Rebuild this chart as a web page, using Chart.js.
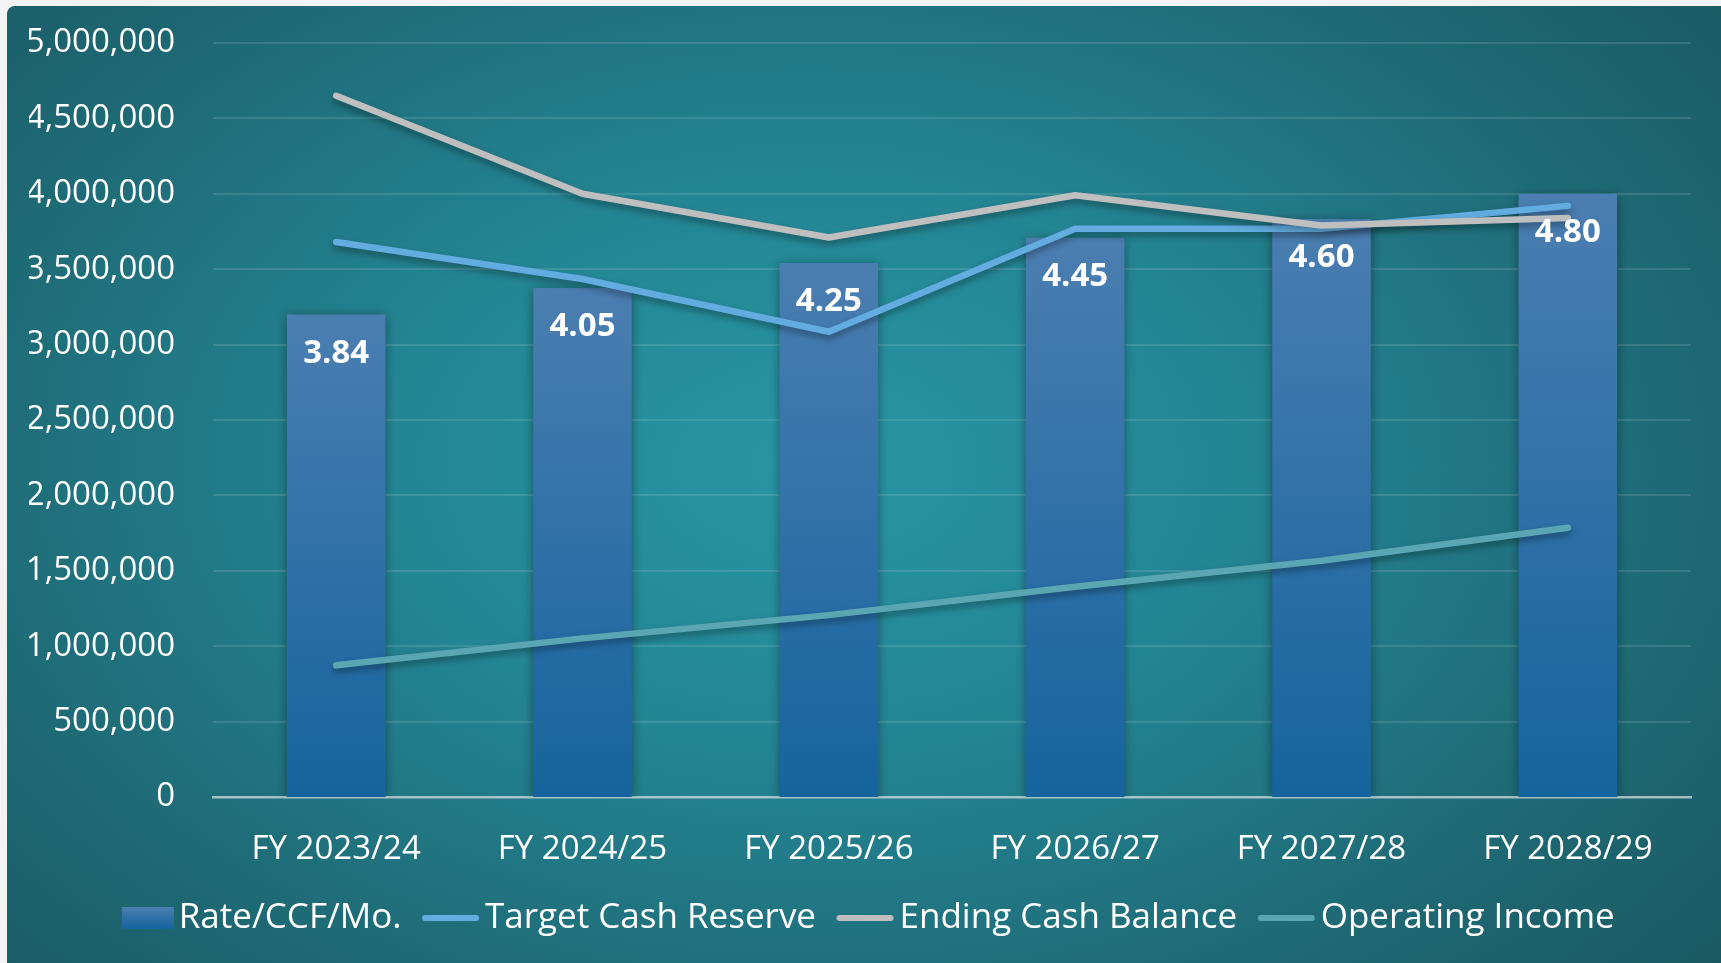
<!DOCTYPE html>
<html><head><meta charset="utf-8">
<script src="https://cdn.jsdelivr.net/npm/chart.js@4.4.1/dist/chart.umd.min.js"></script>
<style>
html,body{margin:0;padding:0;width:1721px;height:963px;overflow:hidden;background:#f3f3f3;}
#card{position:absolute;left:7px;top:6px;width:1714px;height:957px;border-top-left-radius:8px;
background: radial-gradient(ellipse 72% 85% at 47% 48%, #2896a4 0%, #248593 35%, #1e6a75 70%, #1a565f 100%);}
#wrap{position:absolute;left:0;top:0;width:1721px;height:963px;}
</style></head><body>
<div id="card"></div>
<div id="wrap"><canvas id="c" width="1721" height="963"></canvas></div>
<script>
const categories = ['FY 2023/24','FY 2024/25','FY 2025/26','FY 2026/27','FY 2027/28','FY 2028/29'];
const rateValues = [3.84, 4.05, 4.25, 4.45, 4.60, 4.80];
const targetCashReserve = [3680000, 3435000, 3085000, 3768000, 3768000, 3920000];
const endingCashBalance = [4650000, 4000000, 3710000, 3990000, 3790000, 3840000];
const operatingIncome = [873000, 1052000, 1206000, 1394000, 1567000, 1786000];
const seriesNames = ['Rate/CCF/Mo.', 'Target Cash Reserve', 'Ending Cash Balance', 'Operating Income'];
const yMin = 0, yMax = 5000000, yStep = 500000;
const rateAxisMax = 6;

const BAR_TOP = '#4b7eb1', BAR_BOTTOM = '#15649e';
const C_TARGET = '#62ace0', C_ENDING = '#bfbfbf', C_OPER = '#5ba6b3';
const LEG_FONT = 35, LEG_W = 56, LEG_CW = LEG_W + 25;

Chart.defaults.font.family = "'Open Sans', sans-serif";
Chart.defaults.font.size = 33;
Chart.defaults.color = '#ffffff';

function makeBox(){
  const cv=document.createElement('canvas'); cv.width=LEG_CW; cv.height=22;
  const x=cv.getContext('2d'); const g=x.createLinearGradient(0,0,0,22);
  g.addColorStop(0,BAR_TOP); g.addColorStop(1,BAR_BOTTOM); x.fillStyle=g; x.fillRect(LEG_CW-52,0,52,22); return cv;
}
function makeLine(color){
  const cv=document.createElement('canvas'); cv.width=LEG_CW; cv.height=8;
  const x=cv.getContext('2d'); x.strokeStyle=color; x.lineWidth=6; x.lineCap='round';
  x.beginPath(); x.moveTo(LEG_CW-55,4); x.lineTo(LEG_CW-4,4); x.stroke(); return cv;
}
const icons = [makeBox(), makeLine(C_TARGET), makeLine(C_ENDING), makeLine(C_OPER)];

const fx = {
  id:'fx',
  beforeDatasetDraw(chart,args){
    const ctx=chart.ctx; ctx.save();
    if (chart.data.datasets[args.index].type==='bar'){
      args.meta.data.forEach(el=>{
        if (isFinite(el.y) && isFinite(el.base)) {
          const g=ctx.createLinearGradient(0,el.y,0,el.base);
          g.addColorStop(0,BAR_TOP); g.addColorStop(1,BAR_BOTTOM);
          el.options.backgroundColor=g;
        }
      });
      ctx.shadowColor='rgba(0,0,0,0.4)'; ctx.shadowBlur=10; ctx.shadowOffsetX=0; ctx.shadowOffsetY=2;
    } else {
      ctx.shadowColor='rgba(0,0,0,0.35)'; ctx.shadowBlur=7; ctx.shadowOffsetX=0; ctx.shadowOffsetY=4;
    }
  },
  afterDatasetDraw(chart){ chart.ctx.restore(); },
  afterDatasetsDraw(chart){
    const ctx=chart.ctx; const meta=chart.getDatasetMeta(0);
    ctx.save(); ctx.fillStyle='#ffffff'; ctx.font="bold 33px 'Open Sans', sans-serif";
    ctx.textAlign='center'; ctx.textBaseline='middle';
    meta.data.forEach((el,i)=>{ ctx.fillText(rateValues[i].toFixed(2), el.x, el.y+39); });
    ctx.restore();
  }
};

const lineCommon = {type:'line', yAxisID:'y', borderWidth:6.5, pointRadius:0, pointHoverRadius:0,
  borderCapStyle:'round', borderJoinStyle:'round', tension:0, fill:false};

new Chart(document.getElementById('c'), {
  data:{
    labels: categories,
    datasets:[
      {type:'bar', label:seriesNames[0], data:rateValues, yAxisID:'y1',
       backgroundColor:(c)=>BAR_BOTTOM,
       barPercentage:0.4, categoryPercentage:1, order:5},
      Object.assign({label:seriesNames[1], data:targetCashReserve, borderColor:C_TARGET, backgroundColor:C_TARGET, order:3}, lineCommon),
      Object.assign({label:seriesNames[2], data:endingCashBalance, borderColor:C_ENDING, backgroundColor:C_ENDING, order:2}, lineCommon),
      Object.assign({label:seriesNames[3], data:operatingIncome, borderColor:C_OPER, backgroundColor:C_OPER, order:4}, lineCommon)
    ]
  },
  options:{
    responsive:false, animation:false, devicePixelRatio:1,
    layout:{padding:{left:29,right:30,top:43,bottom:17.5}},
    plugins:{
      tooltip:{enabled:false},
      legend:{position:'bottom', labels:{usePointStyle:true, pointStyleWidth:LEG_W, padding:10, color:'#ffffff',
        font:{size:LEG_FONT},
        sort:(a,b)=>a.datasetIndex-b.datasetIndex,
        generateLabels(chart){
          const items = Chart.defaults.plugins.legend.labels.generateLabels(chart);
          items.sort((a,b)=>a.datasetIndex-b.datasetIndex);
          items.forEach(it=>{ it.pointStyle = icons[it.datasetIndex]; it.fontColor='#ffffff'; });
          return items;
        }}}
    },
    scales:{
      x:{grid:{display:false, drawTicks:false}, border:{display:true, color:'rgba(205,215,220,0.75)', width:2.5},
         ticks:{padding:33, color:'#ffffff', font:{size:33}},
         afterFit(s){ s.height=93.5; }},
      y:{position:'left', min:yMin, max:yMax,
         grid:{color:'rgba(255,255,255,0.12)', lineWidth:2, drawTicks:false}, border:{display:false},
         ticks:{stepSize:yStep, padding:38, color:'#ffffff', font:{size:33},
                callback:v=>Number(v).toLocaleString('en-US')},
         afterFit(s){ s.width=184; s.paddingTop=0; s.paddingBottom=0; }},
      y1:{display:false, min:0, max:rateAxisMax}
    }
  },
  plugins:[fx]
});
</script>
</body></html>
